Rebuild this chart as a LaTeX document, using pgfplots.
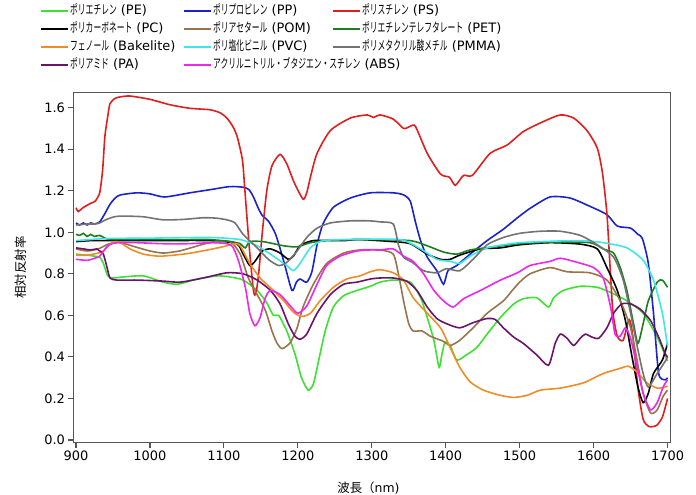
\documentclass[border=0pt]{standalone}
\usepackage{fontspec}
\setmainfont{DejaVu Sans}
\newfontfamily\jpfont{Noto Sans CJK JP}[FakeStretch=0.6]
\newfontfamily\jpn{Noto Sans CJK JP}
\usepackage{pgfplots}
\pgfplotsset{compat=1.18}
\definecolor{cPE}{RGB}{60,225,50}
\definecolor{cPP}{RGB}{25,35,200}
\definecolor{cPS}{RGB}{225,30,30}
\definecolor{cPC}{RGB}{0,0,0}
\definecolor{cPOM}{RGB}{155,115,75}
\definecolor{cPET}{RGB}{30,125,30}
\definecolor{cBAK}{RGB}{240,140,40}
\definecolor{cPVC}{RGB}{60,230,235}
\definecolor{cPMMA}{RGB}{115,115,115}
\definecolor{cPA}{RGB}{105,20,105}
\definecolor{cABS}{RGB}{235,40,235}
\definecolor{frame}{RGB}{85,85,85}
\newcommand\Lone[2]{\makebox[112bp][l]{{\jpfont #1} #2}}
\newcommand\Ltwo[2]{\makebox[118bp][l]{{\jpfont #1} #2}}
\newcommand\Lthree[2]{{\jpfont #1} #2}
\begin{document}
\begin{tikzpicture}
\begin{axis}[
 scale only axis, width=597bp, height=350.2bp,
 xmin=896.6, xmax=1704, ymin=-0.012, ymax=1.674,
 xtick={900,1000,1100,1200,1300,1400,1500,1600,1700},
 ytick={0,0.2,0.4,0.6,0.8,1.0,1.2,1.4,1.6},
 xtick pos=left, ytick pos=left,
 tick align=outside, major tick length=5bp,
 tick style={draw=frame, line width=1.1pt},
 axis line style={draw=frame, line width=1.1pt},
 /pgf/number format/assume math mode=true,
 ticklabel style={font=\fontsize{13}{15}\selectfont, text=black},
 yticklabel style={/pgf/number format/.cd, fixed, fixed zerofill, precision=1},
 xticklabel style={/pgf/number format/1000 sep={}},
 xlabel={{\jpn 波長（}nm)}, ylabel={\jpn 相対反射率},
 label style={font=\fontsize{12.5}{14}\selectfont},
 x label style={at={(axis description cs:0.494,-0.1285)}, anchor=center},
 y label style={at={(axis description cs:-0.0888,0.5)}, anchor=center},
 legend columns=3,
 legend cell align=left,
 legend style={draw=none, fill=none, at={(-0.0561,1.252)}, anchor=north west, inner sep=0pt,
   font=\fontsize{13}{14}\selectfont,
   nodes={inner sep=1bp, text height=9.5bp, text depth=3bp},
   row sep=3.5bp, column sep=0pt},
 legend image code/.code={\draw[#1, line width=2pt] (0bp,0bp) -- (27bp,0bp);},
 every axis plot/.append style={line width=1.6pt, smooth, tension=0.4},
]
% PE
\addplot[cPE] coordinates {(900,0.895)(915,0.89)(925,0.885)(932,0.88)(937,0.85)(943,0.79)(950,0.78)(964,0.785)(991,0.79)(1018,0.76)(1037,0.75)(1064,0.775)(1091,0.79)(1108,0.785)(1126,0.77)(1145,0.72)(1158,0.66)(1167,0.60)(1174,0.60)(1185,0.525)(1196,0.415)(1205,0.30)(1214,0.24)(1221,0.27)(1228,0.38)(1237,0.525)(1248,0.64)(1262,0.695)(1280,0.72)(1298,0.74)(1311,0.76)(1329,0.77)(1352,0.76)(1366,0.685)(1375,0.59)(1384,0.48)(1391,0.35)(1395,0.415)(1399,0.47)(1406,0.455)(1415,0.385)(1428,0.41)(1442,0.445)(1456,0.51)(1474,0.59)(1492,0.655)(1505,0.68)(1523,0.685)(1539,0.64)(1546,0.685)(1559,0.72)(1582,0.74)(1605,0.735)(1623,0.71)(1645,0.67)(1667,0.61)(1686,0.495)(1700,0.38)};
\addlegendentry{\Lone{ポリエチレン}{(PE)}}
% PP
\addplot[cPP] coordinates {(900,1.045)(905,1.035)(910,1.045)(915,1.035)(920,1.045)(925,1.04)(932,1.05)(939,1.09)(946,1.135)(953,1.165)(960,1.18)(982,1.19)(1000,1.185)(1020,1.17)(1054,1.19)(1081,1.205)(1108,1.22)(1126,1.217)(1134,1.205)(1140,1.17)(1146,1.12)(1152,1.08)(1160,1.055)(1170,0.99)(1181,0.86)(1192,0.72)(1198,0.76)(1203,0.775)(1212,0.76)(1219,0.81)(1226,0.94)(1234,1.04)(1248,1.12)(1271,1.165)(1298,1.19)(1329,1.19)(1343,1.18)(1352,1.15)(1359,1.05)(1366,0.96)(1375,0.88)(1388,0.815)(1397,0.75)(1403,0.815)(1415,0.84)(1433,0.895)(1456,0.96)(1478,1.015)(1497,1.07)(1514,1.115)(1541,1.17)(1568,1.165)(1595,1.125)(1618,1.085)(1632,1.03)(1650,1.02)(1660,0.99)(1666,0.97)(1674,0.85)(1681,0.61)(1688,0.32)(1697,0.29)(1700,0.30)};
\addlegendentry{\Ltwo{ポリプロピレン}{(PP)}}
% PS
\addplot[cPS] coordinates {(900,1.118)(903,1.10)(910,1.12)(915,1.13)(920,1.14)(926,1.15)(932,1.19)(936,1.30)(939,1.46)(943,1.56)(946,1.62)(953,1.645)(960,1.652)(973,1.656)(1000,1.64)(1027,1.614)(1054,1.597)(1081,1.59)(1095,1.575)(1104,1.55)(1112,1.51)(1118,1.46)(1125,1.35)(1128,1.22)(1131,1.08)(1135,0.90)(1140,0.72)(1143,0.70)(1147,0.80)(1152,1.0)(1158,1.2)(1165,1.32)(1176,1.375)(1185,1.33)(1195,1.24)(1207,1.16)(1212,1.19)(1218,1.28)(1226,1.38)(1244,1.49)(1271,1.55)(1294,1.565)(1302,1.553)(1311,1.565)(1329,1.545)(1343,1.50)(1352,1.51)(1359,1.51)(1375,1.38)(1393,1.28)(1405,1.265)(1413,1.226)(1424,1.274)(1436,1.274)(1460,1.38)(1483,1.42)(1505,1.485)(1532,1.533)(1555,1.565)(1573,1.55)(1591,1.49)(1605,1.405)(1612,1.285)(1618,1.09)(1622,0.85)(1626,0.62)(1632,0.50)(1640,0.48)(1648,0.58)(1653,0.50)(1660,0.25)(1667,0.10)(1675,0.065)(1685,0.07)(1693,0.11)(1700,0.20)};
\addlegendentry{\Lthree{ポリスチレン}{(PS)}}
% PC
\addplot[cPC] coordinates {(900,0.955)(920,0.96)(940,0.96)(1000,0.96)(1081,0.96)(1117,0.945)(1126,0.895)(1135,0.84)(1142,0.86)(1152,0.91)(1163,0.92)(1176,0.90)(1187,0.87)(1194,0.885)(1203,0.935)(1221,0.96)(1262,0.96)(1284,0.965)(1329,0.955)(1352,0.945)(1375,0.895)(1393,0.87)(1406,0.87)(1419,0.89)(1447,0.92)(1474,0.925)(1500,0.94)(1541,0.95)(1582,0.943)(1605,0.92)(1618,0.83)(1632,0.72)(1643,0.575)(1652,0.40)(1660,0.255)(1667,0.18)(1674,0.225)(1681,0.32)(1693,0.385)(1700,0.465)};
\addlegendentry{\Lone{ポリカーボネート}{(PC)}}
% POM
\addplot[cPOM] coordinates {(900,0.92)(915,0.91)(930,0.92)(945,0.945)(960,0.95)(980,0.93)(1000,0.91)(1018,0.90)(1040,0.91)(1060,0.93)(1081,0.95)(1108,0.955)(1122,0.895)(1133,0.78)(1145,0.70)(1156,0.625)(1165,0.525)(1172,0.465)(1179,0.44)(1190,0.47)(1199,0.54)(1207,0.64)(1221,0.75)(1239,0.85)(1262,0.90)(1284,0.915)(1311,0.915)(1329,0.895)(1336,0.80)(1343,0.67)(1350,0.56)(1356,0.525)(1368,0.525)(1379,0.50)(1397,0.475)(1406,0.455)(1419,0.48)(1437,0.54)(1456,0.61)(1478,0.67)(1490,0.72)(1500,0.76)(1514,0.80)(1541,0.83)(1564,0.81)(1595,0.805)(1618,0.77)(1636,0.67)(1650,0.54)(1659,0.38)(1667,0.225)(1677,0.13)(1686,0.145)(1694,0.21)(1700,0.24)};
\addlegendentry{\Ltwo{ポリアセタール}{(POM)}}
% PET
\addplot[cPET] coordinates {(900,0.99)(905,0.985)(910,0.995)(915,0.98)(920,0.99)(925,0.98)(932,0.985)(940,0.97)(950,0.965)(1000,0.965)(1050,0.965)(1081,0.965)(1110,0.955)(1122,0.945)(1129,0.925)(1135,0.955)(1153,0.955)(1181,0.935)(1199,0.93)(1217,0.95)(1239,0.96)(1271,0.965)(1300,0.965)(1352,0.96)(1375,0.935)(1397,0.905)(1415,0.895)(1433,0.915)(1465,0.93)(1500,0.945)(1541,0.953)(1595,0.95)(1613,0.92)(1627,0.90)(1636,0.83)(1645,0.72)(1654,0.56)(1660,0.465)(1667,0.56)(1674,0.67)(1686,0.76)(1693,0.77)(1700,0.735)};
\addlegendentry{\Lthree{ポリエチレンテレフタレート}{(PET)}}
% Bakelite
\addplot[cBAK] coordinates {(900,0.89)(915,0.89)(930,0.90)(937,0.91)(945,0.94)(952,0.955)(960,0.95)(973,0.92)(991,0.895)(1014,0.885)(1050,0.897)(1085,0.92)(1104,0.935)(1115,0.945)(1122,0.935)(1135,0.85)(1149,0.78)(1167,0.72)(1181,0.67)(1194,0.615)(1205,0.595)(1217,0.61)(1230,0.67)(1248,0.735)(1266,0.775)(1284,0.79)(1298,0.81)(1311,0.82)(1329,0.805)(1343,0.77)(1356,0.685)(1375,0.61)(1393,0.54)(1406,0.445)(1419,0.35)(1433,0.28)(1451,0.24)(1474,0.215)(1492,0.205)(1510,0.215)(1528,0.24)(1555,0.25)(1586,0.275)(1613,0.32)(1636,0.345)(1647,0.355)(1659,0.327)(1672,0.275)(1686,0.25)(1697,0.255)(1700,0.26)};
\addlegendentry{\Lone{フェノール}{(Bakelite)}}
% PVC
\addplot[cPVC] coordinates {(900,0.96)(920,0.965)(940,0.97)(1000,0.972)(1081,0.975)(1122,0.965)(1145,0.935)(1167,0.885)(1185,0.84)(1194,0.815)(1203,0.85)(1217,0.925)(1234,0.96)(1271,0.965)(1338,0.965)(1366,0.92)(1388,0.87)(1406,0.86)(1419,0.85)(1433,0.885)(1456,0.925)(1500,0.95)(1578,0.96)(1613,0.95)(1645,0.925)(1667,0.865)(1681,0.77)(1693,0.61)(1700,0.45)};
\addlegendentry{\Ltwo{ポリ塩化ビニル}{(PVC)}}
% PMMA
\addplot[cPMMA] coordinates {(900,1.035)(915,1.04)(925,1.04)(932,1.045)(940,1.06)(950,1.073)(960,1.078)(990,1.075)(1018,1.06)(1045,1.062)(1072,1.07)(1090,1.068)(1104,1.06)(1115,1.045)(1126,0.99)(1145,0.925)(1160,0.87)(1174,0.84)(1185,0.855)(1199,0.91)(1212,0.975)(1226,1.02)(1244,1.045)(1271,1.055)(1298,1.055)(1311,1.05)(1329,1.04)(1336,0.94)(1343,0.88)(1355,0.855)(1370,0.815)(1388,0.805)(1401,0.825)(1419,0.815)(1437,0.87)(1456,0.94)(1478,0.975)(1500,0.995)(1528,1.005)(1555,1.005)(1582,0.985)(1605,0.94)(1627,0.88)(1640,0.77)(1650,0.61)(1659,0.45)(1667,0.32)(1674,0.255)(1686,0.32)(1697,0.38)(1700,0.40)};
\addlegendentry{\Lthree{ポリメタクリル酸メチル}{(PMMA)}}
% PA
\addplot[cPA] coordinates {(900,0.925)(910,0.92)(920,0.915)(928,0.92)(932,0.91)(937,0.895)(942,0.83)(946,0.78)(955,0.77)(982,0.77)(1018,0.765)(1041,0.76)(1072,0.78)(1104,0.805)(1126,0.80)(1145,0.77)(1163,0.72)(1176,0.655)(1187,0.56)(1196,0.50)(1203,0.485)(1212,0.51)(1226,0.61)(1244,0.70)(1262,0.75)(1280,0.76)(1298,0.775)(1311,0.78)(1329,0.78)(1347,0.765)(1361,0.72)(1375,0.64)(1388,0.585)(1401,0.56)(1419,0.54)(1437,0.565)(1456,0.585)(1467,0.58)(1478,0.54)(1492,0.495)(1505,0.465)(1523,0.41)(1539,0.36)(1548,0.465)(1555,0.51)(1564,0.49)(1573,0.455)(1582,0.49)(1589,0.51)(1598,0.495)(1607,0.49)(1618,0.54)(1627,0.61)(1638,0.655)(1650,0.655)(1663,0.63)(1677,0.575)(1688,0.495)(1697,0.415)(1700,0.40)};
\addlegendentry{\Lone{ポリアミド}{(PA)}}
% ABS
\addplot[cABS] coordinates {(900,0.87)(915,0.865)(925,0.875)(932,0.885)(943,0.935)(955,0.95)(982,0.95)(1018,0.945)(1050,0.945)(1085,0.95)(1104,0.945)(1112,0.93)(1120,0.86)(1129,0.735)(1135,0.61)(1142,0.55)(1149,0.59)(1156,0.685)(1163,0.72)(1176,0.70)(1190,0.645)(1200,0.61)(1212,0.645)(1226,0.75)(1239,0.84)(1257,0.885)(1280,0.91)(1298,0.915)(1311,0.915)(1329,0.92)(1343,0.885)(1356,0.86)(1370,0.80)(1384,0.72)(1397,0.67)(1410,0.64)(1424,0.68)(1447,0.72)(1474,0.77)(1497,0.805)(1514,0.84)(1541,0.86)(1555,0.875)(1578,0.855)(1600,0.83)(1613,0.78)(1623,0.64)(1629,0.51)(1636,0.50)(1643,0.54)(1650,0.49)(1659,0.35)(1667,0.225)(1677,0.145)(1686,0.18)(1694,0.255)(1700,0.29)};
\addlegendentry{\Ltwo{アクリルニトリル・ブタジエン・スチレン}{(ABS)}}
\end{axis}
\pgfresetboundingbox
\useasboundingbox (-73.5bp,-52.5bp) rectangle (622.5bp,442.5bp);
\end{tikzpicture}
\end{document}
